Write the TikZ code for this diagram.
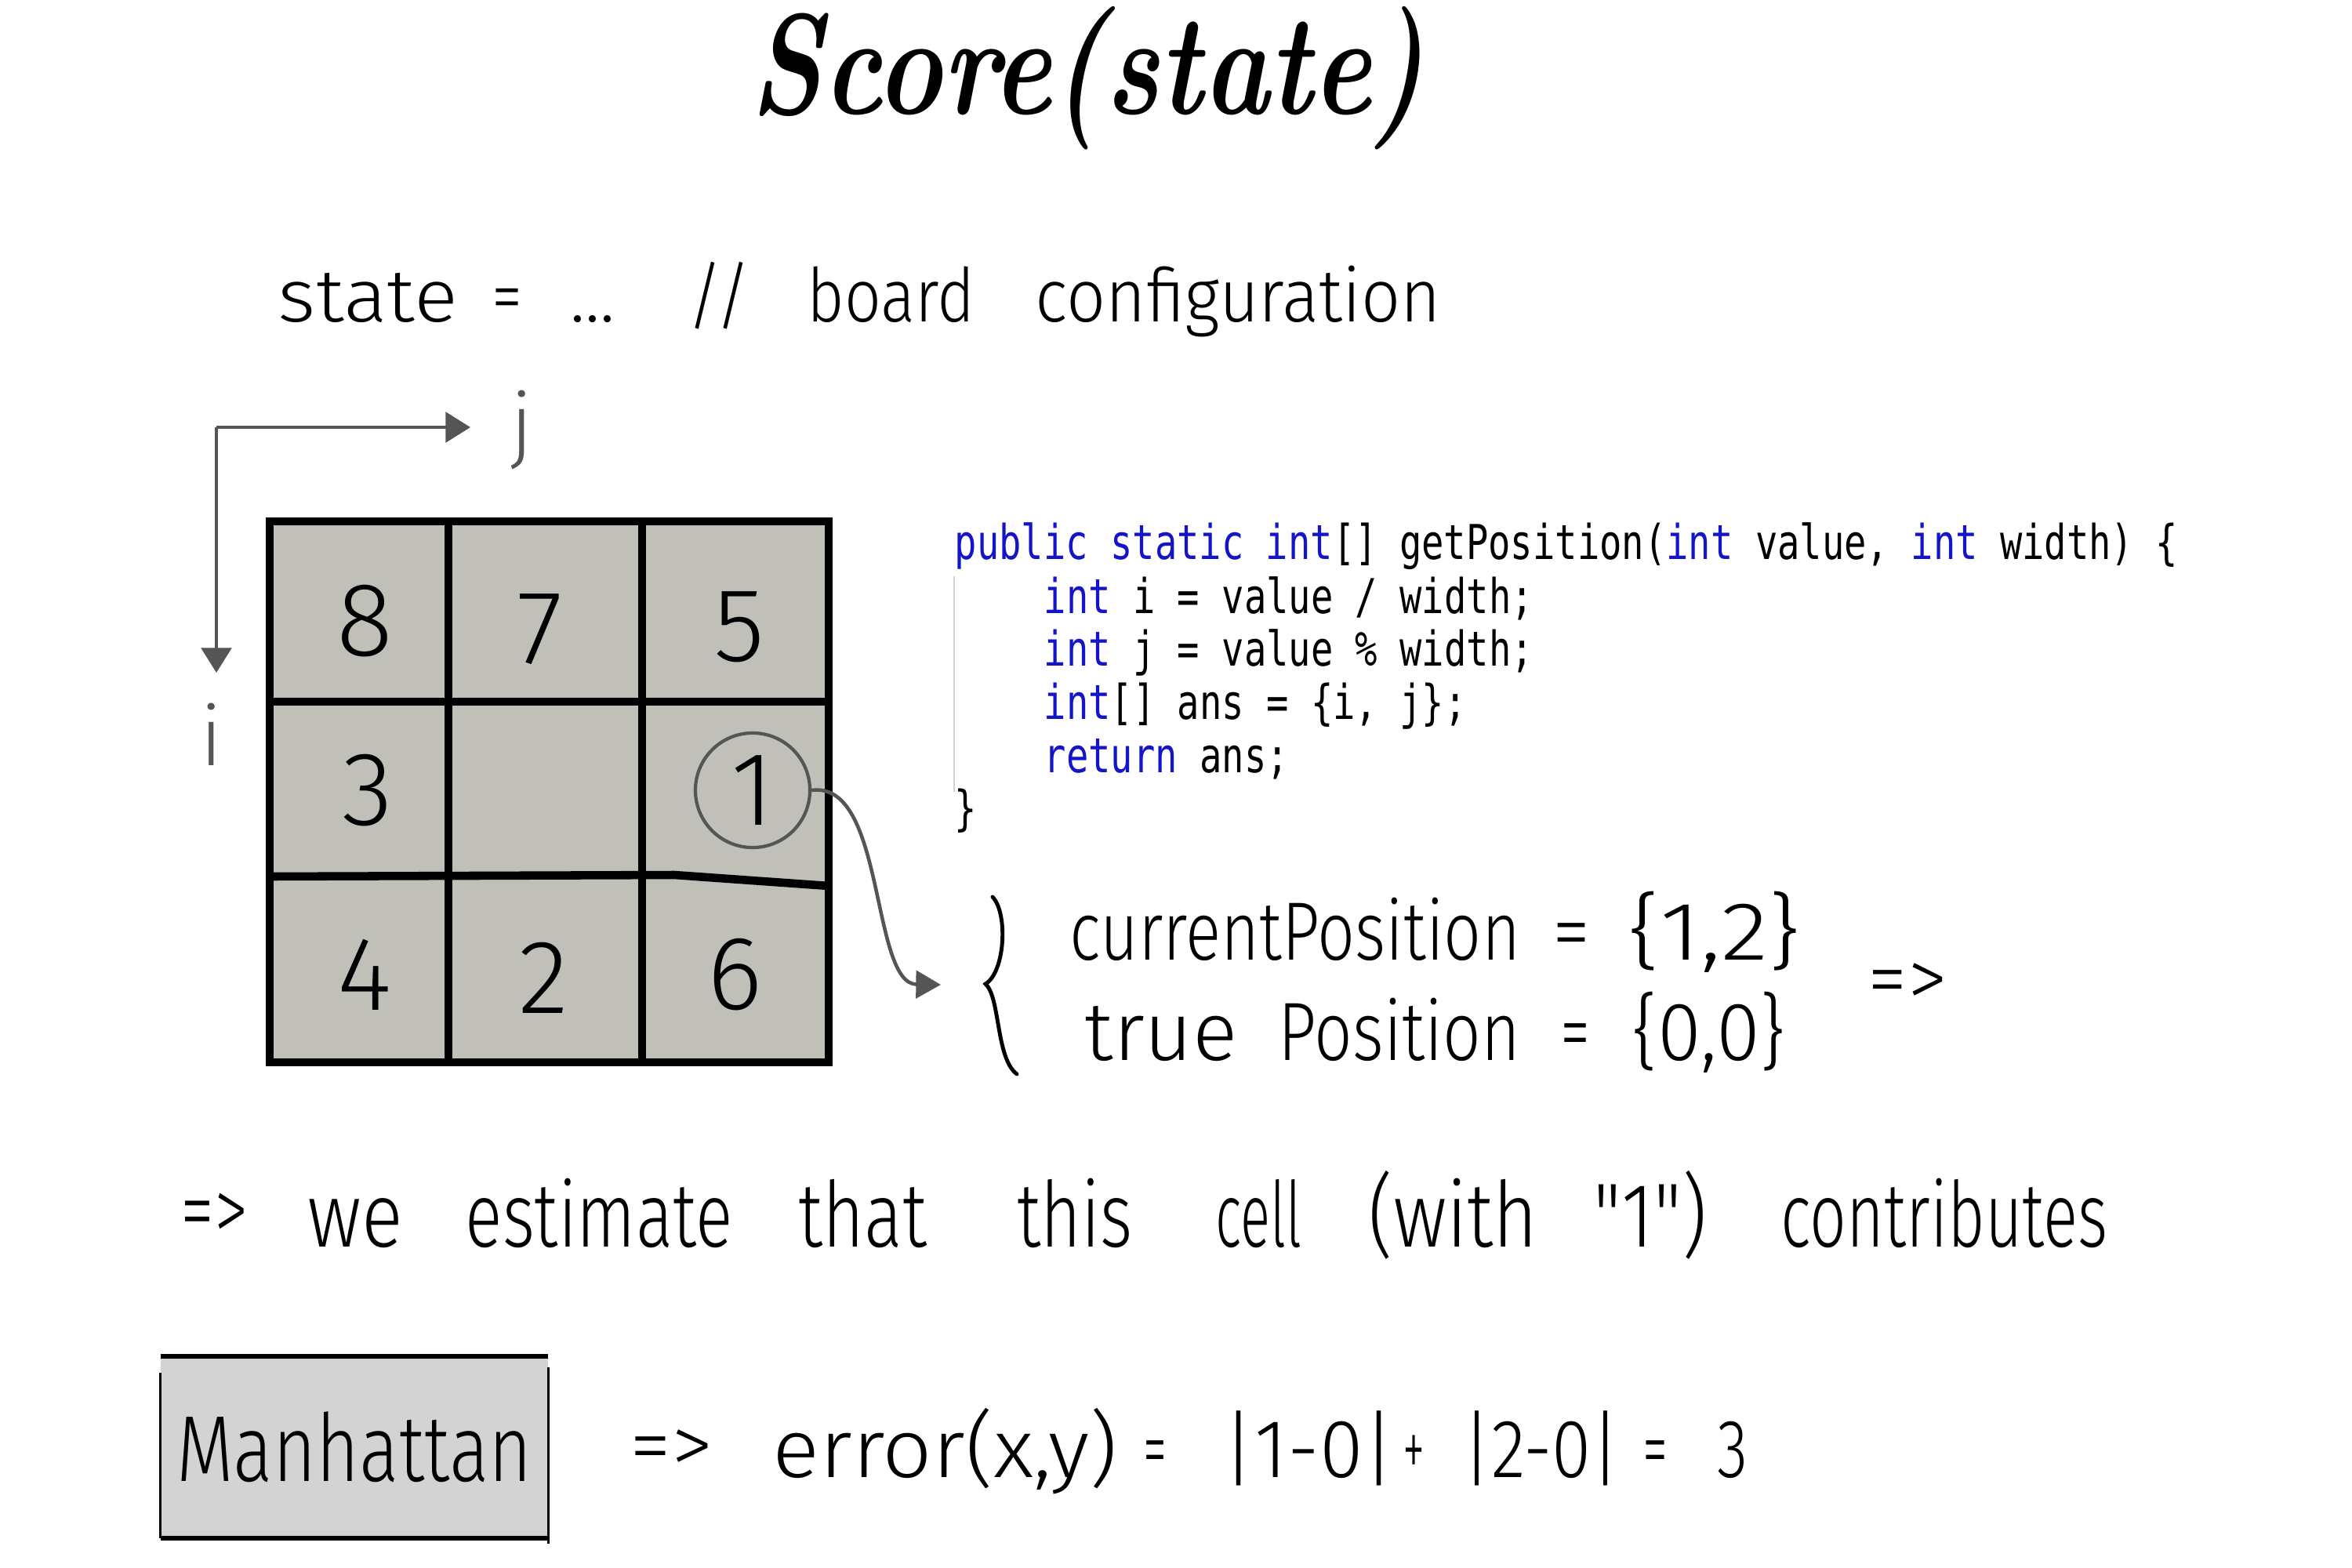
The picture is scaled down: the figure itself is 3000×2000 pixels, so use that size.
\documentclass[tikz,border=0pt]{standalone}
\usepackage{fontspec}
\usepackage{graphicx}
\setmonofont{DejaVu Sans Mono}
\newfontfamily\handfont{Fira Sans}[UprightFont=*-Light]
\usetikzlibrary{arrows.meta}
\definecolor{gridgray}{RGB}{192,191,184}
\definecolor{boxgray}{RGB}{211,211,211}
\definecolor{axisgray}{RGB}{85,85,85}
\definecolor{kw}{RGB}{20,20,200}
\newcommand{\kwd}[1]{\textcolor{kw}{#1}}
\newcommand{\hw}[2]{\resizebox{#1}{\height}{#2}}
\newcommand{\tallcode}[1]{\scalebox{1}[1.3]{#1}}
\tikzset{
  hand/.style={font=\handfont\fontsize{30}{34}\selectfont, inner sep=0pt, anchor=base west},
  handsm/.style={hand, font=\handfont\fontsize{27}{31}\selectfont},
  handbig/.style={hand, font=\handfont\fontsize{33}{37}\selectfont},
  digit/.style={font=\handfont\fontsize{38}{42}\selectfont, inner sep=0pt},
  codeline/.style={font=\ttfamily\fontsize{13.4}{19.3}\selectfont, inner sep=0pt, anchor=base west},
  gridline/.style={line width=3pt, black},
  axis/.style={axisgray, line width=1.1pt, -{Triangle[length=9pt,width=11pt]}},
}
\begin{document}
\begin{tikzpicture}[x=0.01cm, y=-0.01cm]
\path[use as bounding box] (0,0) rectangle (3000,2000);

% title
\node[font=\fontsize{52}{58}\selectfont\bfseries\itshape, inner sep=0pt] (title) at (1387,100) {\hw{8.6cm}{Score(state)}};

% state line
\node[handsm] (s1) at (354,410) {\hw{2.29cm}{state}};
\node[handsm] (s2) at (627,410) {\hw{0.39cm}{=}};
\node[handsm] (s3) at (727,410) {\hw{0.57cm}{...}};
\node[handsm] (s4) at (876,410) {\hw{0.81cm}{//}};
\node[handsm] (s5) at (1029,410) {\hw{2.14cm}{board}};
\node[handsm] (s6) at (1320,410) {\hw{5.17cm}{configuration}};

% axes
\coordinate (o) at (276,545);
\coordinate (jend) at (600,545);
\coordinate (iend) at (276,858);
\draw[axis] (o) -- (jend);
\draw[axis] (o) -- (iend);
\node[font=\handfont\fontsize{30}{34}\selectfont, text=axisgray, inner sep=0pt] (jl) at (666,548) {j};
\node[font=\handfont\fontsize{30}{34}\selectfont, text=axisgray, inner sep=0pt] (il) at (270,937) {i};

% grid
\fill[gridgray] (344,665) rectangle (1057,1355);
\draw[gridline] (572,665) -- (572,1355);
\draw[gridline] (819,665) -- (819,1355);
\draw[gridline] (344,895) -- (1057,895);
\draw[gridline] (344,1118) -- (860,1116) -- (1057,1130);
\draw[line width=3pt] (344,665) rectangle (1057,1355);

\node[digit] (d8) at (465,792) {8};
\node[digit] (d7) at (689,803) {7};
\node[digit] (d5) at (943,800) {5};
\node[digit] (d3) at (469,1008) {3};
\node[digit, circle, draw=axisgray, line width=1.2pt, minimum size=1.46cm] (c1) at (960,1008) {1};
\node[digit] (d4) at (465,1243) {4};
\node[digit] (d2) at (693,1247) {2};
\node[digit] (d6) at (937,1243) {6};

% connector
\coordinate (tip) at (1200,1256);
\draw[axisgray, line width=1.3pt, -{Triangle[length=9pt,width=10pt]}] (c1.east) .. controls (1130,995) and (1110,1255) .. (tip);

% code
\draw[gray!35, line width=0.8pt] (1217,735) -- (1217,1010);
\node[codeline] (k1) at (1217,713) {\tallcode{\kwd{public} \kwd{static} \kwd{int}[] getPosition(\kwd{int} value, \kwd{int} width) \{}};
\node[codeline] (k2) at (1331,782) {\tallcode{\kwd{int} i = value / width;}};
\node[codeline] (k3) at (1331,849) {\tallcode{\kwd{int} j = value \% width;}};
\node[codeline] (k4) at (1331,917) {\tallcode{\kwd{int}[] ans = \{i, j\};}};
\node[codeline] (k5) at (1331,985) {\tallcode{\kwd{return} ans;}};
\node[codeline] (k6) at (1217,1052) {\tallcode{\}}};

% brace
\draw[line width=1.4pt, line cap=round] (1266,1144) .. controls (1286,1165) and (1282,1240) .. (1257,1255) .. controls (1276,1272) and (1270,1350) .. (1297,1370);

% positions
\node[hand] (c1t) at (1364,1224) {\hw{5.74cm}{currentPosition}};
\node[hand] (c2t) at (1980,1224) {\hw{0.48cm}{=}};
\node[hand] (c3t) at (2076,1224) {\hw{2.2cm}{\{1,2\}}};
\node[hand] (t1) at (1383,1352) {\hw{1.95cm}{true}};
\node[hand] (t2) at (1630,1352) {\hw{3.08cm}{Position}};
\node[hand] (t3) at (1990,1352) {\hw{0.38cm}{=}};
\node[hand] (t4) at (2081,1352) {\hw{1.96cm}{\{0,0\}}};
\node[hand, anchor=west] (imp1) at (2382,1257) {\hw{1.01cm}{=>}};

% estimate line
\node[handbig, anchor=west] (e0) at (230,1553) {\hw{0.86cm}{=>}};
\node[handbig] (e1) at (392,1590) {\hw{1.21cm}{we}};
\node[handbig] (e2) at (593,1590) {\hw{3.41cm}{estimate}};
\node[handbig] (e3) at (1018,1590) {\hw{1.64cm}{that}};
\node[handbig] (e4) at (1297,1590) {\hw{1.47cm}{this}};
\node[handbig] (e5) at (1550,1590) {\hw{1.10cm}{cell}};
\node[handbig] (e6) at (1745,1590) {\hw{2.16cm}{(with}};
\node[handbig] (e7) at (2032,1590) {\hw{1.45cm}{"1")}};
\node[handbig] (e8) at (2271,1590) {\hw{4.17cm}{contributes}};

% Manhattan box
\node[fill=boxgray, minimum width=4.93cm, minimum height=2.30cm, inner sep=0pt, font=\handfont\fontsize{34}{38}\selectfont] (manh) at (452,1846) {\hw{4.53cm}{Manhattan}};
\draw[line width=1.6pt] (manh.north west) -- (manh.north east);
\draw[line width=1.6pt] (manh.south west) -- (manh.south east);
\draw[line width=0.8pt] ([yshift=-6pt]manh.north west) -- (manh.south west);
\draw[line width=0.8pt] ([yshift=-4pt]manh.north east) -- ([yshift=-2pt]manh.south east);

% error line
\node[hand, anchor=west] (r0) at (803,1852) {\hw{1.06cm}{=>}};
\node[hand] (r1) at (985,1884) {\hw{4.40cm}{error(x,y)}};
\node[hand] (r2) at (1458,1884) {\hw{0.30cm}{=}};
\node[hand] (r3) at (1559,1884) {\hw{2.20cm}{|1-0|}};
\node[hand] (r4) at (1789,1884) {\hw{0.28cm}{+}};
\node[hand] (r5) at (1865,1884) {\hw{2.01cm}{|2-0|}};
\node[hand] (r6) at (2095,1884) {\hw{0.32cm}{=}};
\node[hand] (r7) at (2190,1884) {\hw{0.39cm}{3}};
\end{tikzpicture}
\end{document}
